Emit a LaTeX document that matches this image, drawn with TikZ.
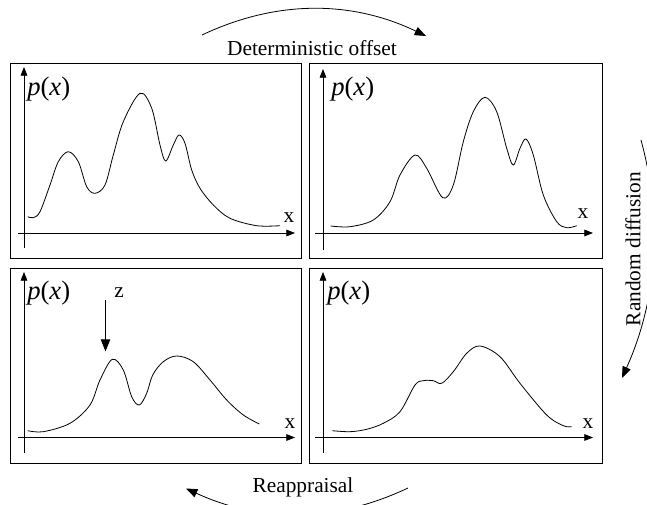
\documentclass[tikz,border=0pt]{standalone}
\usepackage{fontspec}
\setmainfont{Liberation Serif}
\usetikzlibrary{arrows.meta}
\begin{document}
\begin{tikzpicture}[x=0.75pt,y=-0.75pt,
  panel/.style={draw, line width=0.65pt},
  axis/.style={line width=0.6pt, -{Triangle[length=6.5pt,width=5pt]}},
  curve/.style={line width=0.6pt, smooth, tension=0.55},
  flow/.style={line width=0.6pt, -{Triangle[length=8.5pt,width=6.5pt]}},
  lbl/.style={font=\fontsize{16}{18}\selectfont, inner sep=0pt},
  plabel/.style={font=\fontsize{20}{22}\selectfont, inner sep=0pt, anchor=west},
  xlabel/.style={font=\fontsize{16}{18}\selectfont, inner sep=0pt},
  zlabel/.style={font=\fontsize{16}{18}\selectfont, inner sep=0pt}]
\useasboundingbox (0,0) rectangle (647,505);
\clip (0,0) rectangle (647,505);

% panels
\draw[panel] (10,63) rectangle (301,258);
\draw[panel] (309,63) rectangle (602,258);
\draw[panel] (10,268) rectangle (301,463);
\draw[panel] (309,268) rectangle (602,463);

% axes
\draw[axis] (24,248) -- (24,67);
\draw[axis] (18,233) -- (295,233);
\draw[axis] (323,250) -- (323,69);
\draw[axis] (315,233) -- (593,233);
\draw[axis] (24,453) -- (24,272);
\draw[axis] (18,437.5) -- (295,437.5);
\draw[axis] (323,453) -- (323,272);
\draw[axis] (315,437.5) -- (593,437.5);

% labels
\node[plabel] (p1) at (27,89) {\textit{p}(\textit{x})};
\node[plabel] (p2) at (331,89) {\textit{p}(\textit{x})};
\node[plabel] (p3) at (27,293) {\textit{p}(\textit{x})};
\node[plabel] (p4) at (327,293) {\textit{p}(\textit{x})};
\node[xlabel] (x1) at (289,218) {x};
\node[xlabel] (x2) at (583,214) {x};
\node[xlabel] (x3) at (290,424) {x};
\node[xlabel] (x4) at (588,424) {x};

% curves
\draw[curve] plot coordinates {(27.7,216.7) (33.3,217.7) (40,211.7) (50,185) (58.3,161.7) (68.3,151.7) (78.3,161.7) (86.7,186.7) (95,193.3) (105,185) (113.3,155) (123.3,121.7) (140,93.3) (151.7,108.3) (160,145) (165.7,161) (173.3,145) (179,135) (185,143.3) (191.7,170) (200,188.3) (213.3,205) (230,218.3) (256.7,225.7) (280,225.7)};
\draw[curve] plot coordinates {(330.7,226) (350,226.7) (373.3,220) (390,201.7) (400,175) (415,155) (426.7,168.3) (442.7,197.7) (453.3,185) (463.3,141.7) (473.3,111.7) (485,97.3) (496.7,111.7) (506.7,148.3) (513.3,165) (520,148.3) (526,139) (533.3,155) (543.3,195) (556.7,221.7) (566.7,227.7) (576.7,225.7)};
\draw[curve] plot coordinates {(27.7,430.7) (43.3,431.7) (70,423.3) (90,405) (100,380) (112.3,359.3) (123.3,370) (131.7,396.7) (139.3,405) (146.7,393.3) (152.7,375) (163.3,361.7) (176.7,356) (193.3,361.7) (210,380) (226.7,400) (243.3,415) (259.3,424)};
\draw[curve] plot coordinates {(332.3,430.7) (350,431.7) (366.7,429.3) (383.3,423.3) (400,411.7) (415,385) (423.3,380.7) (433.3,380.7) (441.7,383.3) (453.3,371.7) (466.7,353.3) (480,346) (500,356.7) (520,383.3) (546.7,415) (563.3,425.7) (571.7,426.7)};

% z marker
\node[zlabel] (z) at (119,293) {z};
\coordinate (zs) at (105.5,300.5);
\coordinate (zt) at (105.5,351.5);
\draw[line width=0.6pt, -{Triangle[length=9pt,width=7pt]}] (zs) -- (zt);

% cycle arrows
\node[lbl] (det) at (312,48) {Deterministic offset};
\coordinate (dA) at (202,35);
\coordinate (dB) at (426,36);
\draw[flow] (dA) .. controls (276,0) and (351,0) .. (dB);

\node[lbl, rotate=90] (rnd) at (633,249) {Random diffusion};
\coordinate (rA) at (641,140);
\coordinate (rB) at (622,378);
\draw[flow] (rA) .. controls (663,221) and (657,300) .. (rB);

\node[lbl] (rea) at (303,487) {Reappraisal};
\coordinate (aA) at (408,488);
\coordinate (aB) at (186,488.5);
\draw[flow] (aA) .. controls (334,523) and (261,523) .. (aB);
\end{tikzpicture}
\end{document}
